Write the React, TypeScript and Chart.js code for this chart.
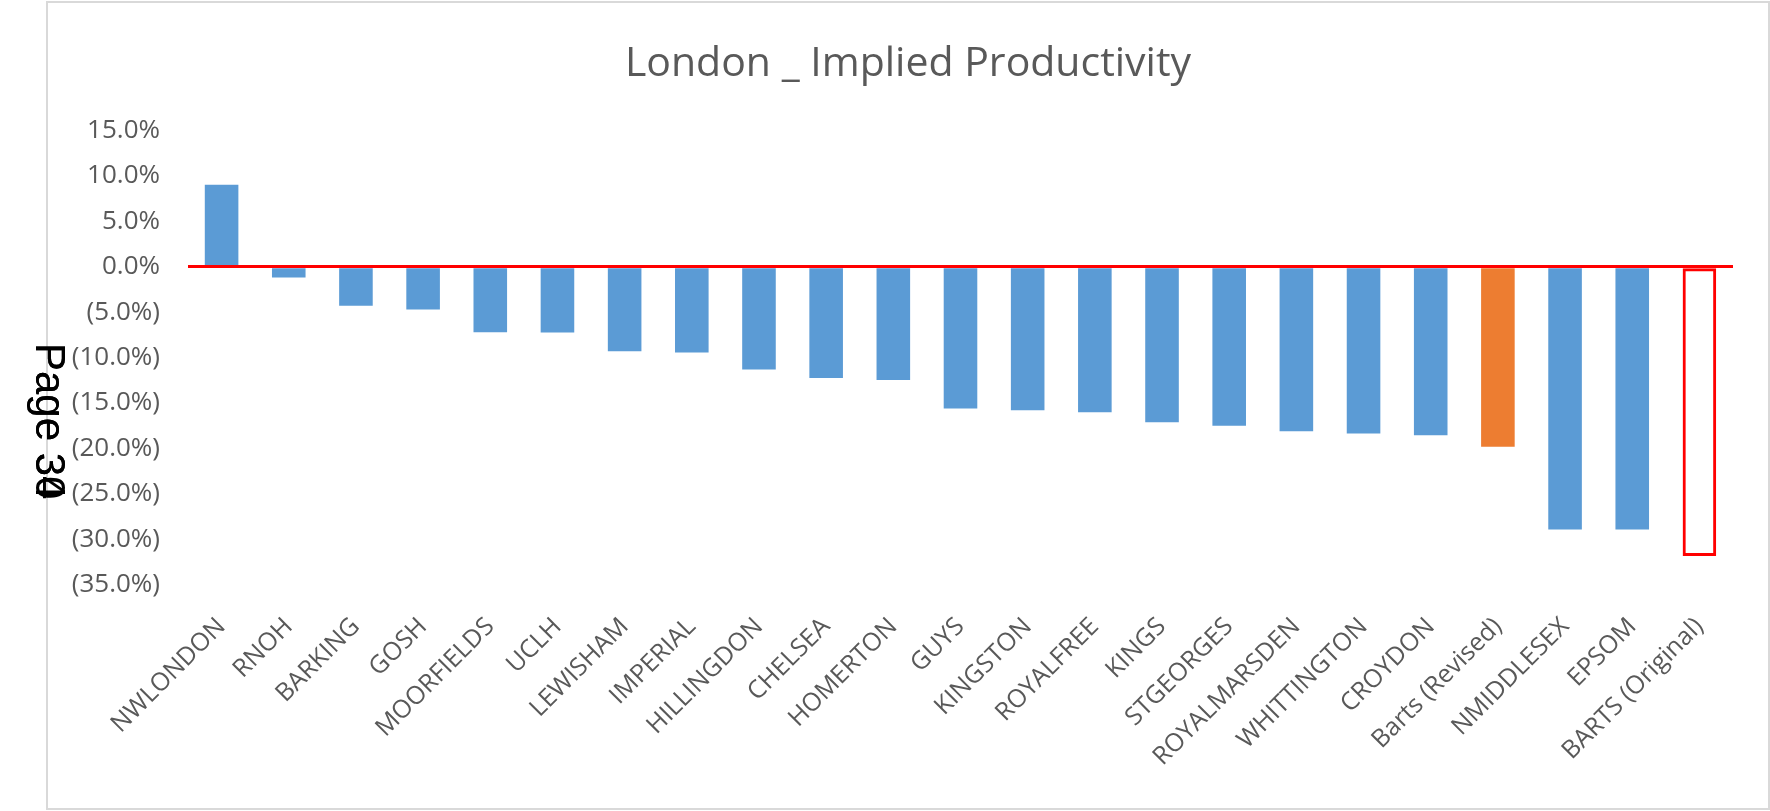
import React, { useEffect, useRef } from 'react';
import { Chart, registerables } from 'chart.js';

Chart.register(...registerables);

const chartTitle = 'London _ Implied Productivity';

const categories = [
  'NWLONDON', 'RNOH', 'BARKING', 'GOSH', 'MOORFIELDS', 'UCLH', 'LEWISHAM',
  'IMPERIAL', 'HILLINGDON', 'CHELSEA', 'HOMERTON', 'GUYS', 'KINGSTON',
  'ROYALFREE', 'KINGS', 'STGEORGES', 'ROYALMARSDEN', 'WHITTINGTON',
  'CROYDON', 'Barts (Revised)', 'NMIDDLESEX', 'EPSOM', 'BARTS (Original)',
];

// Implied productivity, percent
const productivity = [
  9.0, -1.2, -4.3, -4.7, -7.2, -7.25, -9.3,
  -9.45, -11.3, -12.25, -12.45, -15.6, -15.8,
  -16.0, -17.1, -17.5, -18.1, -18.35,
  -18.55, -19.8, -28.9, -28.9, -31.8,
];

const yTicks = [15, 10, 5, 0, -5, -10, -15, -20, -25, -30, -35];

const revisedCategory = 'Barts (Revised)';
const originalCategory = 'BARTS (Original)';

const pageMarks = ['Page 30', 'Page 34'];

const BLUE = '#5B9BD5';
const ORANGE = '#ED7D31';
const RED = '#FF0000';
const TEXT = '#595959';
const FONT = "'Open Sans', 'DejaVu Sans', sans-serif";

function fmtPct(v: number): string {
  const s = Math.abs(v).toFixed(1) + '%';
  return v < 0 ? '(' + s + ')' : s;
}

export default function App() {
  const canvasRef = useRef<HTMLCanvasElement | null>(null);

  useEffect(() => {
    const canvas = canvasRef.current;
    if (!canvas) return;
    const fills = categories.map((c) =>
      c === revisedCategory ? ORANGE : c === originalCategory ? 'rgba(255,255,255,0)' : BLUE
    );
    const borders = categories.map((c) => (c === originalCategory ? RED : 'rgba(0,0,0,0)'));
    const borderWidths = categories.map((c) => (c === originalCategory ? 3 : 0));

    const chart = new Chart(canvas, {
      type: 'bar',
      data: {
        labels: categories,
        datasets: [
          {
            data: productivity,
            backgroundColor: fills,
            borderColor: borders,
            borderWidth: borderWidths,
            borderSkipped: false,
            categoryPercentage: 1,
            barPercentage: 0.5,
          },
        ],
      },
      options: {
        animation: false,
        responsive: true,
        maintainAspectRatio: false,
        layout: { padding: { left: 0, right: 0, top: 0, bottom: 0 } },
        plugins: {
          legend: { display: false },
          tooltip: { enabled: false },
          title: {
            display: true,
            text: chartTitle,
            color: TEXT,
            font: { family: FONT, size: 41, weight: 'normal' },
            padding: { top: 37, bottom: 41 },
          },
        },
        scales: {
          x: {
            grid: { display: false, drawTicks: false },
            border: { display: false },
            ticks: {
              autoSkip: false,
              maxRotation: 45,
              minRotation: 45,
              color: TEXT,
              font: { family: FONT, size: 25 },
              padding: 27,
            },
            afterFit: (scale: any) => {
              scale.height = 223;
              scale.paddingRight = 35;
            },
          },
          y: {
            min: -35,
            max: 15,
            afterBuildTicks: (scale: any) => {
              scale.ticks = yTicks.map((v) => ({ value: v }));
            },
            ticks: {
              color: TEXT,
              font: { family: FONT, size: 26 },
              padding: 28,
              callback: (v: any) => fmtPct(Number(v)),
            },
            grid: {
              drawTicks: false,
              z: 1,
              color: (ctx: any) => (ctx.tick && ctx.tick.value === 0 ? RED : 'rgba(0,0,0,0)'),
              lineWidth: (ctx: any) => (ctx.tick && ctx.tick.value === 0 ? 3 : 0),
            },
            border: { display: false },
            afterFit: (scale: any) => {
              scale.width = 140;
            },
          },
        },
      },
    });
    return () => chart.destroy();
  }, []);

  return (
    <div style={{ position: 'fixed', left: 0, top: 0, width: 1770, height: 811, background: '#ffffff' }}>
      <div
        style={{
          position: 'absolute',
          left: 46,
          top: 1,
          width: 1724,
          height: 809,
          boxSizing: 'border-box',
          border: '2px solid #d9d9d9',
        }}
      />
      <div style={{ position: 'absolute', left: 48, top: 3, width: 1720, height: 805 }}>
        <canvas ref={canvasRef} />
      </div>
      {pageMarks.map((t) => (
        <div
          key={t}
          style={{
            position: 'absolute',
            left: 71,
            top: 343,
            transformOrigin: '0 0',
            transform: 'rotate(90deg)',
            fontFamily: "'Liberation Sans', Arial, sans-serif",
            fontSize: 42,
            lineHeight: '42px',
            color: '#000000',
            whiteSpace: 'nowrap',
          }}
        >
          {t}
        </div>
      ))}
    </div>
  );
}
